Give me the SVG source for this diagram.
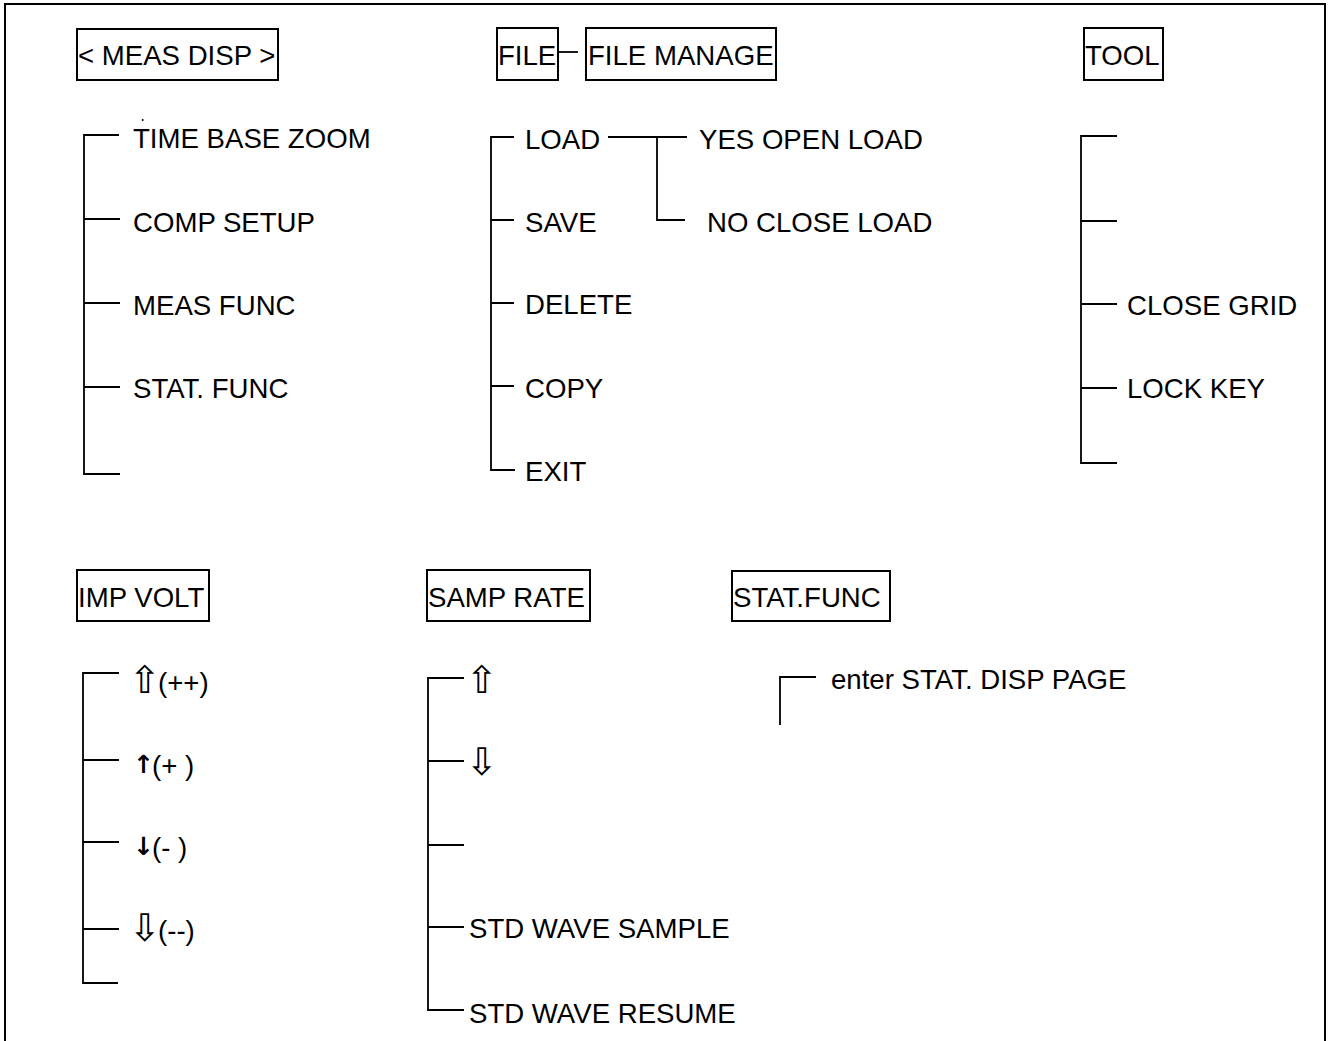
<svg xmlns="http://www.w3.org/2000/svg" width="1330" height="1041" viewBox="0 0 1330 1041">
<style>
.bx{fill:none;stroke:#000;stroke-width:2}
.ln{fill:none;stroke:#000;stroke-width:1.8}
text{font-family:"Liberation Sans",Arial,"DejaVu Sans",sans-serif;font-size:27.6px;fill:#000}
.sym{font-family:"DejaVu Sans","Liberation Sans",sans-serif;font-size:38px}
.sar{font-family:"DejaVu Sans","Liberation Sans",sans-serif;font-size:25px;font-weight:bold}
</style>
<rect x="5" y="4" width="1320" height="1060" fill="#fff" stroke="#000" stroke-width="2"/>

<g id="connectors">
  <path class="ln" d="M558 52H578"/>
  <path class="ln" d="M119 135H84V474H120M84 219H120M84 303H120M84 387H120"/>
  <path class="ln" d="M514 137H491V470H515M491 220H514M491 303H514M491 386H514"/>
  <path class="ln" d="M608 137H687M657 137V220H685"/>
  <path class="ln" d="M1117 136H1081V463H1117M1081 221H1117M1081 304H1117M1081 388H1117"/>
  <path class="ln" d="M119 673H83V983H118M83 760H119M83 842H119M83 929H119"/>
  <path class="ln" d="M464 678H428V1010H464M428 761H464M428 845H464M428 927H464"/>
  <path class="ln" d="M816 677H780V725"/>
</g>

<g id="meas-disp"><rect class="bx" x="77" y="29" width="201" height="51"/><text x="78" y="65">&lt; MEAS DISP &gt;</text></g>
<g id="file"><rect class="bx" x="497" y="28" width="61" height="52"/><text x="498" y="65">FILE</text></g>
<g id="file-manage"><rect class="bx" x="586" y="28" width="190" height="52"/><text x="588" y="65">FILE MANAGE</text></g>
<g id="tool"><rect class="bx" x="1084" y="28" width="79" height="52"/><text x="1085" y="65">TOOL</text></g>

<g id="time-base-zoom"><circle cx="142.7" cy="120" r="1" fill="#000"/><text x="133" y="148">TIME BASE ZOOM</text></g>
<g id="comp-setup"><text x="133" y="232">COMP SETUP</text></g>
<g id="meas-func"><text x="133" y="315">MEAS FUNC</text></g>
<g id="stat-func-item"><text x="133" y="398">STAT. FUNC</text></g>

<g id="load"><text x="525" y="149">LOAD</text></g>
<g id="save"><text x="525" y="232">SAVE</text></g>
<g id="delete"><text x="525" y="314">DELETE</text></g>
<g id="copy"><text x="525" y="398">COPY</text></g>
<g id="exit"><text x="525" y="481">EXIT</text></g>
<g id="yes-open-load"><text x="699" y="149">YES OPEN LOAD</text></g>
<g id="no-close-load"><text x="707" y="232">NO CLOSE LOAD</text></g>

<g id="close-grid"><text x="1127" y="315">CLOSE GRID</text></g>
<g id="lock-key"><text x="1127" y="398">LOCK KEY</text></g>

<g id="imp-volt"><rect class="bx" x="77" y="570" width="132" height="51"/><text x="78" y="607">IMP VOLT</text></g>
<g id="samp-rate"><rect class="bx" x="427" y="570" width="163" height="51"/><text x="428" y="607">SAMP RATE</text></g>
<g id="stat-func"><rect class="bx" x="732" y="571" width="158" height="50"/><text x="733" y="607">STAT.FUNC</text></g>

<g id="inc-fast"><text x="129" y="693" class="sym">⇧</text><text x="158" y="692">(++)</text></g>
<g id="inc"><text x="133" y="773" class="sar">↑</text><text x="152" y="775">(+ )</text></g>
<g id="dec"><text x="133" y="855" class="sar">↓</text><text x="152" y="857">(- )</text></g>
<g id="dec-fast"><text x="129" y="941" class="sym">⇩</text><text x="158" y="940">(--)</text></g>

<g id="rate-up"><text x="466" y="693" class="sym">⇧</text></g>
<g id="rate-down"><text x="466" y="775" class="sym">⇩</text></g>
<g id="std-wave-sample"><text x="469" y="938">STD WAVE SAMPLE</text></g>
<g id="std-wave-resume"><text x="469" y="1023">STD WAVE RESUME</text></g>

<g id="enter-stat"><text x="831" y="689">enter STAT. DISP PAGE</text></g>
</svg>
